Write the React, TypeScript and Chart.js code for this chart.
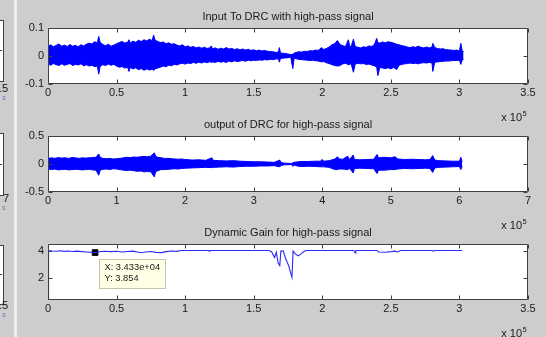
import React, { useEffect, useRef } from "react";
import { Chart, registerables } from "chart.js";

Chart.register(...registerables);

const FONT = "'Liberation Sans', Arial, Helvetica, sans-serif";
const BG = "#cdcdcd";
const FRAME = "#404040";
const TEXT = "#1a1a1a";
const BLUE = "#0000ff";

// ---------- Panel 1: input waveform envelope (x in units of 10^5 samples) ----------
const inputX = [
  0.0, 0.02, 0.04, 0.06, 0.08, 0.1, 0.12, 0.14, 0.16, 0.18, 0.2, 0.22, 0.24, 0.26, 0.28, 0.3, 0.32, 0.34,
  0.36, 0.37, 0.38, 0.4, 0.42, 0.44, 0.46, 0.48, 0.5, 0.52, 0.54, 0.56, 0.58, 0.59, 0.6, 0.62, 0.64, 0.66,
  0.68, 0.7, 0.72, 0.74, 0.76, 0.77, 0.78, 0.8, 0.82, 0.84, 0.86, 0.88, 0.9, 0.92, 0.94, 0.96, 0.98, 1.0,
  1.02, 1.04, 1.06, 1.08, 1.1, 1.12, 1.14, 1.16, 1.18, 1.19, 1.2, 1.22, 1.24, 1.26, 1.28, 1.3, 1.32, 1.34,
  1.36, 1.38, 1.4, 1.42, 1.44, 1.46, 1.48, 1.5, 1.52, 1.54, 1.56, 1.58, 1.6, 1.62, 1.64, 1.66, 1.68, 1.687,
  1.695, 1.71, 1.73, 1.75, 1.77, 1.785, 1.795, 1.81, 1.83, 1.85, 1.87, 1.89, 1.91, 1.93, 1.95, 1.97, 1.996,
  2.01, 2.03, 2.05, 2.07, 2.09, 2.11, 2.13, 2.15, 2.17, 2.19, 2.2, 2.21, 2.227, 2.24, 2.26, 2.28, 2.3, 2.32,
  2.34, 2.36, 2.38, 2.397, 2.405, 2.42, 2.44, 2.46, 2.48, 2.5, 2.52, 2.543, 2.56, 2.58, 2.6, 2.62, 2.64,
  2.66, 2.68, 2.7, 2.72, 2.74, 2.76, 2.78, 2.8, 2.806, 2.82, 2.84, 2.86, 2.88, 2.9, 2.92, 2.94, 2.96, 2.98,
  3.0, 3.01, 3.02, 3.03,
];
const inputHi = [
  0.034, 0.04, 0.033, 0.038, 0.043, 0.035, 0.039, 0.034, 0.041, 0.035, 0.038, 0.033, 0.04, 0.036, 0.042,
  0.046, 0.043, 0.051, 0.047, 0.07, 0.049, 0.041, 0.037, 0.042, 0.035, 0.039, 0.044, 0.048, 0.052, 0.046,
  0.049, 0.058, 0.047, 0.053, 0.049, 0.056, 0.052, 0.058, 0.054, 0.06, 0.055, 0.075, 0.057, 0.052, 0.048,
  0.05, 0.044, 0.047, 0.042, 0.044, 0.039, 0.036, 0.04, 0.033, 0.036, 0.031, 0.034, 0.029, 0.032, 0.028,
  0.031, 0.027, 0.029, 0.036, 0.026, 0.029, 0.024, 0.028, 0.025, 0.03, 0.025, 0.027, 0.023, 0.026, 0.022,
  0.025, 0.021, 0.024, 0.02, 0.022, 0.019, 0.021, 0.018, 0.02, 0.017, 0.016, 0.015, 0.013, 0.014, 0.03,
  0.011, 0.01, 0.009, 0.007, 0.005, 0.006, 0.01, 0.013, 0.015, 0.014, 0.017, 0.016, 0.019, 0.018, 0.021,
  0.02, 0.03, 0.023, 0.027, 0.032, 0.04, 0.044, 0.055, 0.041, 0.037, 0.034, 0.058, 0.036, 0.033, 0.06,
  0.034, 0.031, 0.029, 0.033, 0.031, 0.036, 0.034, 0.041, 0.063, 0.048, 0.046, 0.05, 0.047, 0.051, 0.049,
  0.046, 0.042, 0.04, 0.037, 0.035, 0.032, 0.03, 0.033, 0.031, 0.035, 0.031, 0.029, 0.032, 0.029, 0.032,
  0.045, 0.03, 0.027, 0.025, 0.026, 0.023, 0.022, 0.021, 0.02, 0.021, 0.019, 0.045, 0.02, 0.015,
];
const inputLo = [
  -0.029, -0.033, -0.027, -0.031, -0.034, -0.028, -0.033, -0.03, -0.027, -0.034, -0.03, -0.032, -0.028,
  -0.035, -0.031, -0.036, -0.033, -0.038, -0.036, -0.065, -0.037, -0.031, -0.034, -0.029, -0.033, -0.03,
  -0.036, -0.04, -0.038, -0.043, -0.04, -0.055, -0.041, -0.046, -0.042, -0.049, -0.045, -0.051, -0.046,
  -0.05, -0.047, -0.052, -0.046, -0.043, -0.04, -0.036, -0.038, -0.033, -0.035, -0.03, -0.032, -0.028,
  -0.026, -0.029, -0.025, -0.027, -0.023, -0.026, -0.022, -0.025, -0.021, -0.024, -0.02, -0.023, -0.021,
  -0.023, -0.019, -0.022, -0.02, -0.023, -0.018, -0.021, -0.017, -0.02, -0.018, -0.016, -0.019, -0.015,
  -0.017, -0.015, -0.016, -0.014, -0.015, -0.013, -0.014, -0.012, -0.013, -0.011, -0.01, -0.022, -0.009,
  -0.008, -0.007, -0.006, -0.004, -0.045, -0.007, -0.01, -0.012, -0.013, -0.014, -0.015, -0.016, -0.015,
  -0.017, -0.018, -0.021, -0.02, -0.024, -0.027, -0.031, -0.034, -0.036, -0.034, -0.028, -0.026, -0.031,
  -0.03, -0.027, -0.058, -0.029, -0.026, -0.028, -0.027, -0.03, -0.029, -0.032, -0.035, -0.04, -0.07,
  -0.041, -0.043, -0.045, -0.042, -0.046, -0.041, -0.048, -0.033, -0.03, -0.028, -0.027, -0.025, -0.027,
  -0.026, -0.028, -0.025, -0.024, -0.025, -0.023, -0.025, -0.055, -0.022, -0.021, -0.02, -0.019, -0.018,
  -0.018, -0.017, -0.016, -0.016, -0.015, -0.03, -0.015, -0.012,
];

// ---------- Panel 2: output waveform envelope ----------
const outputX = [
  0.0, 0.05, 0.1, 0.15, 0.2, 0.25, 0.3, 0.35, 0.4, 0.45, 0.5, 0.55, 0.6, 0.65, 0.7, 0.74, 0.76, 0.8, 0.85,
  0.9, 0.95, 1.0, 1.05, 1.1, 1.15, 1.2, 1.25, 1.3, 1.35, 1.4, 1.45, 1.5, 1.55, 1.57, 1.6, 1.65, 1.7, 1.75,
  1.8, 1.85, 1.9, 1.95, 2.0, 2.1, 2.2, 2.3, 2.39, 2.41, 2.5, 2.6, 2.7, 2.8, 2.9, 3.0, 3.1, 3.2, 3.3, 3.38,
  3.4, 3.45, 3.5, 3.55, 3.57, 3.59, 3.65, 3.7, 3.8, 3.9, 3.97, 4.0, 4.02, 4.1, 4.16, 4.2, 4.22, 4.25, 4.3,
  4.37, 4.4, 4.45, 4.47, 4.55, 4.65, 4.75, 4.8, 4.82, 4.9, 5.0, 5.06, 5.1, 5.2, 5.3, 5.4, 5.5, 5.57, 5.61,
  5.64, 5.7, 5.8, 5.9, 6.0, 6.02, 6.04,
];
const outputHi = [
  0.1, 0.11, 0.1, 0.115, 0.105, 0.11, 0.1, 0.115, 0.11, 0.1, 0.11, 0.105, 0.11, 0.115, 0.12, 0.18, 0.12, 0.1,
  0.095, 0.1, 0.09, 0.095, 0.1, 0.11, 0.12, 0.115, 0.125, 0.12, 0.13, 0.135, 0.13, 0.14, 0.2, 0.14, 0.12,
  0.11, 0.1, 0.1, 0.095, 0.09, 0.085, 0.09, 0.08, 0.07, 0.075, 0.065, 0.11, 0.065, 0.06, 0.055, 0.06, 0.05,
  0.045, 0.04, 0.04, 0.035, 0.03, 0.07, 0.025, 0.015, 0.012, 0.01, 0.02, 0.03, 0.04, 0.045, 0.045, 0.05,
  0.05, 0.08, 0.05, 0.06, 0.08, 0.1, 0.13, 0.09, 0.085, 0.14, 0.08, 0.16, 0.08, 0.075, 0.08, 0.085, 0.17,
  0.11, 0.12, 0.11, 0.13, 0.09, 0.08, 0.085, 0.08, 0.075, 0.08, 0.15, 0.07, 0.06, 0.055, 0.05, 0.05, 0.12,
  0.04,
];
const outputLo = [
  -0.095, -0.1, -0.09, -0.105, -0.1, -0.095, -0.105, -0.1, -0.095, -0.1, -0.105, -0.1, -0.095, -0.105, -0.11,
  -0.2, -0.11, -0.095, -0.09, -0.1, -0.085, -0.09, -0.1, -0.11, -0.115, -0.11, -0.12, -0.13, -0.125, -0.14,
  -0.135, -0.14, -0.23, -0.14, -0.12, -0.1, -0.1, -0.095, -0.09, -0.085, -0.09, -0.08, -0.075, -0.07, -0.065,
  -0.06, -0.065, -0.06, -0.055, -0.05, -0.055, -0.045, -0.04, -0.04, -0.035, -0.035, -0.03, -0.05, -0.025,
  -0.015, -0.012, -0.01, -0.04, -0.02, -0.04, -0.045, -0.04, -0.045, -0.05, -0.05, -0.05, -0.06, -0.09, -0.1,
  -0.1, -0.09, -0.09, -0.1, -0.08, -0.16, -0.08, -0.075, -0.08, -0.085, -0.17, -0.11, -0.11, -0.1, -0.1,
  -0.09, -0.08, -0.085, -0.08, -0.075, -0.08, -0.15, -0.07, -0.06, -0.055, -0.05, -0.045, -0.1, -0.04,
];

// ---------- Panel 3: dynamic gain ----------
const gainX = [
  0.0, 0.004, 0.03, 0.06, 0.09, 0.12, 0.15, 0.18, 0.21, 0.25, 0.28, 0.3433, 0.36, 0.385, 0.42, 0.46, 0.5,
  0.54, 0.58, 0.62, 0.65, 0.68, 0.71, 0.75, 0.79, 0.83, 0.86, 0.9, 0.94, 0.97, 1.17, 1.175, 1.18, 1.61, 1.63,
  1.652, 1.665, 1.678, 1.69, 1.698, 1.715, 1.73, 1.755, 1.779, 1.787, 1.805, 1.825, 1.843, 1.868, 1.885,
  2.23, 2.24, 2.245, 2.4, 2.41, 2.46, 2.5, 2.53, 2.55, 2.57, 2.8, 2.81, 2.82, 3.02,
];
const gainY = [
  0.45, 4.0, 3.97, 3.95, 3.98, 3.94, 3.97, 3.93, 3.96, 3.92, 3.9, 3.854, 3.88, 3.93, 3.95, 3.92, 3.95, 3.9,
  3.93, 3.96, 3.9, 3.84, 3.9, 3.93, 3.87, 3.85, 3.92, 3.97, 3.94, 4.0, 4.0, 3.96, 4.0, 4.0, 3.92, 3.5, 3.88,
  3.1, 2.92, 3.96, 3.98, 3.5, 2.9, 2.07, 3.96, 3.74, 3.62, 3.74, 3.95, 4.0, 4.0, 3.82, 4.0, 4.0, 3.9, 3.88,
  3.92, 3.96, 3.9, 4.0, 4.0, 3.96, 4.0, 4.0,
];
const tipX = 0.3433; // x 10^5 samples
const tipY = 3.854;

// ---------- axes ----------
const xTicksHalf = [0, 0.5, 1, 1.5, 2, 2.5, 3, 3.5];
const xTicksOut = [0, 1, 2, 3, 4, 5, 6, 7];
const yTicksIn = [-0.1, 0, 0.1];
const yTicksOut = [-0.5, 0, 0.5];
const yTicksGain = [2, 4];
const titleIn = "Input To DRC with high-pass signal";
const titleOut = "output of DRC for high-pass signal";
const titleGain = "Dynamic Gain for high-pass signal";

const pts = (xs: number[], ys: number[]) => xs.map((x, i) => ({ x, y: ys[i] }));

const CANVAS_W = 576;
const CANVAS_H = 125;

type Spec = {
  top: number;
  title: string;
  xMax: number;
  xTicks: number[];
  yMin: number;
  yMax: number;
  yTicks: number[];
  datasets: any[];
  tip?: { x: number; y: number };
};

function fmtTipX(v: number) {
  const s = (v * 1e5).toExponential(3);
  return s.replace(/e([+-])(\d)$/, "e$10$2");
}

function framePlugin(spec: Spec) {
  return {
    id: "matlabFrame",
    beforeDraw(chart: any) {
      const { ctx, chartArea: a } = chart;
      ctx.save();
      ctx.fillStyle = "#ffffff";
      ctx.fillRect(a.left, a.top, a.right - a.left, a.bottom - a.top);
      ctx.restore();
    },
    afterDraw(chart: any) {
      const { ctx, chartArea: a, scales } = chart;
      const L = Math.round(a.left) + 0.5;
      const R = Math.round(a.right) - 0.5;
      const T = Math.round(a.top) + 0.5;
      const B = Math.round(a.bottom) - 0.5;
      ctx.save();
      ctx.strokeStyle = FRAME;
      ctx.lineWidth = 1;
      ctx.beginPath();
      ctx.rect(L, T, R - L, B - T);
      const tl = 4;
      for (const t of scales.x.ticks) {
        const px = Math.round(scales.x.getPixelForValue(t.value)) + 0.5;
        ctx.moveTo(px, B);
        ctx.lineTo(px, B - tl);
        ctx.moveTo(px, T);
        ctx.lineTo(px, T + tl);
      }
      for (const t of scales.y.ticks) {
        const py = Math.round(scales.y.getPixelForValue(t.value)) + 0.5;
        ctx.moveTo(L, py);
        ctx.lineTo(L + tl, py);
        ctx.moveTo(R, py);
        ctx.lineTo(R - tl, py);
      }
      ctx.stroke();

      // "x 10^5" exponent label
      ctx.fillStyle = TEXT;
      ctx.textBaseline = "middle";
      ctx.textAlign = "right";
      ctx.font = `11px ${FONT}`;
      ctx.fillText("x 10", a.right - 6, a.bottom + 34);
      ctx.textAlign = "left";
      ctx.font = `7.5px ${FONT}`;
      ctx.fillText("5", a.right - 5.5, a.bottom + 30);

      // data tip
      if (spec.tip) {
        const px = scales.x.getPixelForValue(spec.tip.x);
        const py = scales.y.getPixelForValue(spec.tip.y);
        const bx = Math.round(px + 4) + 0.5;
        const by = Math.round(py + 6) + 0.5;
        const bw = 66;
        const bh = 29;
        ctx.fillStyle = "#ffffe6";
        ctx.strokeStyle = "#c6c3a8";
        ctx.fillRect(bx, by, bw, bh);
        ctx.strokeRect(bx, by, bw, bh);
        ctx.fillStyle = "#222222";
        ctx.font = `9.3px ${FONT}`;
        ctx.textAlign = "left";
        ctx.textBaseline = "middle";
        ctx.fillText(`X: ${fmtTipX(spec.tip.x)}`, bx + 5, by + 8);
        ctx.fillText(`Y: ${spec.tip.y.toFixed(3)}`, bx + 5, by + 19);
      }
      ctx.restore();
    },
  };
}

function Panel({ spec }: { spec: Spec }) {
  const ref = useRef<HTMLCanvasElement>(null);
  useEffect(() => {
    const tickFont = { family: FONT, size: 11 };
    const chart = new Chart(ref.current as HTMLCanvasElement, {
      type: "line",
      data: { datasets: spec.datasets },
      options: {
        animation: false,
        responsive: false,
        devicePixelRatio: 1,
        events: [],
        layout: { padding: { left: 18, right: 18, top: 0, bottom: 21 } },
        plugins: {
          legend: { display: false },
          tooltip: { enabled: false },
          title: {
            display: true,
            text: spec.title,
            color: TEXT,
            font: { family: FONT, size: 11, weight: "normal" },
            padding: { top: 10.4, bottom: 4.4 },
          },
        },
        scales: {
          x: {
            type: "linear",
            min: 0,
            max: spec.xMax,
            grid: { display: false, drawTicks: false },
            border: { display: false },
            afterBuildTicks: (s: any) => {
              s.ticks = spec.xTicks.map((v) => ({ value: v }));
            },
            afterFit: (s: any) => {
              s.height = 20;
            },
            ticks: {
              color: TEXT,
              font: tickFont,
              padding: 2.5,
              maxRotation: 0,
              minRotation: 0,
              autoSkip: false,
              callback: (v: any) => String(v),
            },
          },
          y: {
            type: "linear",
            position: "left",
            min: spec.yMin,
            max: spec.yMax,
            grid: { display: false, drawTicks: false },
            border: { display: false },
            afterBuildTicks: (s: any) => {
              s.ticks = spec.yTicks.map((v) => ({ value: v }));
            },
            afterFit: (s: any) => {
              s.width = 30;
            },
            ticks: {
              color: TEXT,
              font: tickFont,
              padding: 4,
              autoSkip: false,
              callback: (v: any) => String(v),
            },
          },
          yR: {
            type: "linear",
            position: "right",
            display: true,
            min: spec.yMin,
            max: spec.yMax,
            grid: { display: false, drawTicks: false },
            border: { display: false },
            ticks: { display: false },
            afterFit: (s: any) => {
              s.width = 30;
            },
          },
        },
      } as any,
      plugins: [framePlugin(spec)],
    });
    return () => chart.destroy();
  }, [spec]);
  return (
    <canvas
      ref={ref}
      width={CANVAS_W}
      height={CANVAS_H}
      style={{ position: "absolute", left: 0, top: spec.top, width: CANVAS_W, height: CANVAS_H }}
    />
  );
}

const envelope = (xs: number[], hi: number[], lo: number[]) => [
  {
    data: pts(xs, hi),
    borderColor: BLUE,
    backgroundColor: BLUE,
    borderWidth: 1,
    pointRadius: 0,
    tension: 0,
    fill: "+1",
  },
  {
    data: pts(xs, lo),
    borderColor: BLUE,
    backgroundColor: BLUE,
    borderWidth: 1,
    pointRadius: 0,
    tension: 0,
    fill: false,
  },
];

const specs: Spec[] = [
  {
    top: 0,
    title: titleIn,
    xMax: 3.5,
    xTicks: xTicksHalf,
    yMin: -0.1,
    yMax: 0.1,
    yTicks: yTicksIn,
    datasets: envelope(inputX, inputHi, inputLo),
  },
  {
    top: 108,
    title: titleOut,
    xMax: 7,
    xTicks: xTicksOut,
    yMin: -0.5,
    yMax: 0.5,
    yTicks: yTicksOut,
    datasets: envelope(outputX, outputHi, outputLo),
  },
  {
    top: 216,
    title: titleGain,
    xMax: 3.5,
    xTicks: xTicksHalf,
    yMin: 0.45,
    yMax: 4.47,
    yTicks: yTicksGain,
    tip: { x: tipX, y: tipY },
    datasets: [
      {
        data: pts(gainX, gainY),
        borderColor: "#2828ff",
        borderWidth: 1.1,
        pointRadius: 0,
        tension: 0,
        fill: false,
      },
      {
        data: [{ x: tipX, y: tipY }],
        showLine: false,
        pointStyle: "rect",
        pointRadius: 4,
        pointBorderWidth: 1,
        pointBackgroundColor: "#000000",
        pointBorderColor: "#000000",
      },
    ],
  },
];

const leftBoxes = [
  { top: 20, height: 60, label: ".5", labelTop: 82, labelLeft: -1 },
  { top: 133, height: 61, label: "7", labelTop: 192, labelLeft: 3 },
  { top: 245, height: 58, label: ".5", labelTop: 299, labelLeft: -1 },
];

export default function App() {
  useEffect(() => {
    document.body.style.margin = "0";
  }, []);
  return (
    <div
      style={{
        position: "fixed",
        left: 0,
        top: 0,
        width: 546,
        height: 337,
        overflow: "hidden",
        background: BG,
        fontFamily: FONT,
      }}
    >
      {leftBoxes.map((b, i) => (
        <React.Fragment key={i}>
          <div
            style={{
              position: "absolute",
              left: -10,
              top: b.top,
              width: 12,
              height: b.height,
              background: "#fff",
              border: `1px solid ${FRAME}`,
            }}
          />
          <div
            style={{
              position: "absolute",
              left: -2,
              top: b.top + Math.round(b.height / 2),
              width: 4,
              height: 1,
              background: FRAME,
            }}
          />
          <div
            style={{
              position: "absolute",
              left: b.labelLeft,
              top: b.labelTop,
              fontSize: 11,
              lineHeight: "13px",
              color: TEXT,
              whiteSpace: "nowrap",
            }}
          >
            {b.label}
          </div>
          <div
            style={{
              position: "absolute",
              left: 2,
              top: b.labelTop + 12,
              fontSize: 7,
              lineHeight: "8px",
              color: "#5a7fc0",
            }}
          >
            s
          </div>
        </React.Fragment>
      ))}
      <div style={{ position: "absolute", left: 14, top: 0, width: 3, height: 337, background: "#eeeeee" }} />
      {specs.map((s, i) => (
        <Panel key={i} spec={s} />
      ))}
    </div>
  );
}
